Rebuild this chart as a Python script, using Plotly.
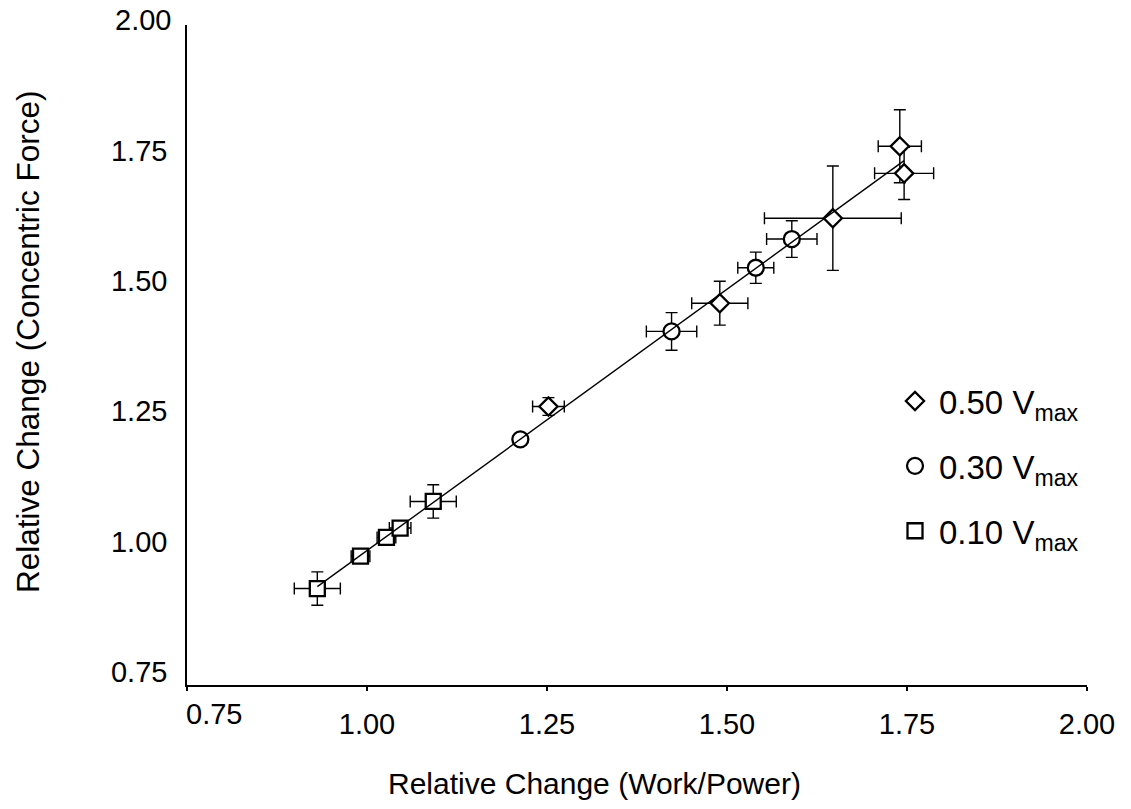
import numpy as np
import plotly.graph_objects as go

# 0.10 Vmax (squares)
sq_x = [0.931, 0.991, 1.027, 1.046, 1.092]
sq_y = [0.910, 0.972, 1.008, 1.026, 1.077]
sq_ex = [0.032, 0.013, 0.013, 0.015, 0.032]
sq_ey = [0.032, 0.010, 0.010, 0.012, 0.032]

# 0.30 Vmax (circles)
ci_x = [1.213, 1.423, 1.540, 1.590]
ci_y = [1.196, 1.403, 1.525, 1.580]
ci_ex = [0.005, 0.035, 0.025, 0.035]
ci_ey = [0.005, 0.036, 0.030, 0.035]

# 0.50 Vmax (diamonds)
di_x = [1.252, 1.490, 1.647, 1.740, 1.746]
di_y = [1.259, 1.457, 1.620, 1.758, 1.706]
di_ex = [0.022, 0.039, 0.095, 0.030, 0.041]
di_ey = [0.017, 0.042, 0.100, 0.070, 0.050]

x_ticks = [0.75, 1.00, 1.25, 1.50, 1.75, 2.00]
y_ticks = [0.75, 1.00, 1.25, 1.50, 1.75]

FONT = "Liberation Sans, Arial, sans-serif"
BLACK = "#000000"

# plot-area geometry in pixels
L, R, T, B = 187, 44, 25, 124
PW, PH = 1131 - L - R, 809 - T - B


def px_x(p):
    return (p - L) / PW


def px_y(p):
    return (T + PH - p) / PH


fig = go.Figure()


def add_series(xs, ys, exs, eys, symbol, size, name):
    fig.add_trace(go.Scatter(
        x=xs, y=ys, mode="markers", name=name,
        marker=dict(symbol=symbol, size=size, color="white",
                    line=dict(color=BLACK, width=2.3)),
        error_x=dict(type="data", array=exs, color=BLACK, thickness=1.4, width=6),
        error_y=dict(type="data", array=eys, color=BLACK, thickness=1.4, width=6),
        legendgroup=name,
    ))


add_series(di_x, di_y, di_ex, di_ey, "diamond", 14, "0.50 V<sub>max</sub>")
add_series(ci_x, ci_y, ci_ex, ci_ey, "circle", 16, "0.30 V<sub>max</sub>")
add_series(sq_x, sq_y, sq_ex, sq_ey, "square", 15, "0.10 V<sub>max</sub>")

# Linear trend line over all points
all_x = np.array(sq_x + ci_x + di_x)
all_y = np.array(sq_y + ci_y + di_y)
slope, intercept = np.polyfit(all_x, all_y, 1)
fx = np.array([all_x.min(), all_x.max()])
fig.add_trace(go.Scatter(
    x=fx, y=slope * fx + intercept, mode="lines",
    line=dict(color=BLACK, width=1.4), showlegend=False, hoverinfo="skip",
))

fig.update_layout(
    width=1131, height=809,
    margin=dict(l=L, r=R, t=T, b=B),
    paper_bgcolor="white", plot_bgcolor="white",
    font=dict(family=FONT, size=29, color=BLACK),
    showlegend=True,
    legend=dict(
        x=px_x(891), y=px_y(466), xanchor="left", yanchor="middle",
        font=dict(size=33), tracegroupgap=19, itemsizing="trace",
        itemwidth=38, bgcolor="rgba(0,0,0,0)",
    ),
    xaxis=dict(
        range=[0.75, 2.00], tickvals=x_ticks,
        ticktext=["" if v == 0.75 else f"{v:.2f}" for v in x_ticks],
        showline=True, linecolor=BLACK, linewidth=1.5,
        ticks="outside", ticklen=4, tickwidth=1.5, tickcolor=BLACK,
        ticklabelstandoff=8, showgrid=False, zeroline=False,
        tickfont=dict(size=29),
    ),
    yaxis=dict(
        range=[0.7251, 1.9904], tickvals=y_ticks,
        ticktext=[f"{v:.2f}" for v in y_ticks],
        showline=True, linecolor=BLACK, linewidth=1.5,
        ticks="", ticklabelstandoff=12, showgrid=False, zeroline=False,
        tickfont=dict(size=29),
    ),
    annotations=[
        # top y label sits just above the end of the axis line
        dict(text="2.00", x=0, xref="paper", y=px_y(20), yref="paper",
             xanchor="right", yanchor="middle", xshift=-14, showarrow=False,
             font=dict(size=29)),
        # first x label nudged right, clear of the y axis labels
        dict(text="0.75", x=px_x(214), xref="paper", y=px_y(714), yref="paper",
             xanchor="center", yanchor="middle", showarrow=False,
             font=dict(size=29)),
        dict(text="Relative Change (Work/Power)", x=px_x(594), xref="paper",
             y=px_y(784), yref="paper", xanchor="center", yanchor="middle",
             showarrow=False, font=dict(size=30)),
        dict(text="Relative Change (Concentric Force)", textangle=-90,
             x=px_x(28), xref="paper", y=px_y(342), yref="paper",
             xanchor="center", yanchor="middle", showarrow=False,
             font=dict(size=31.5)),
    ],
)

fig.write_html("out.html")
